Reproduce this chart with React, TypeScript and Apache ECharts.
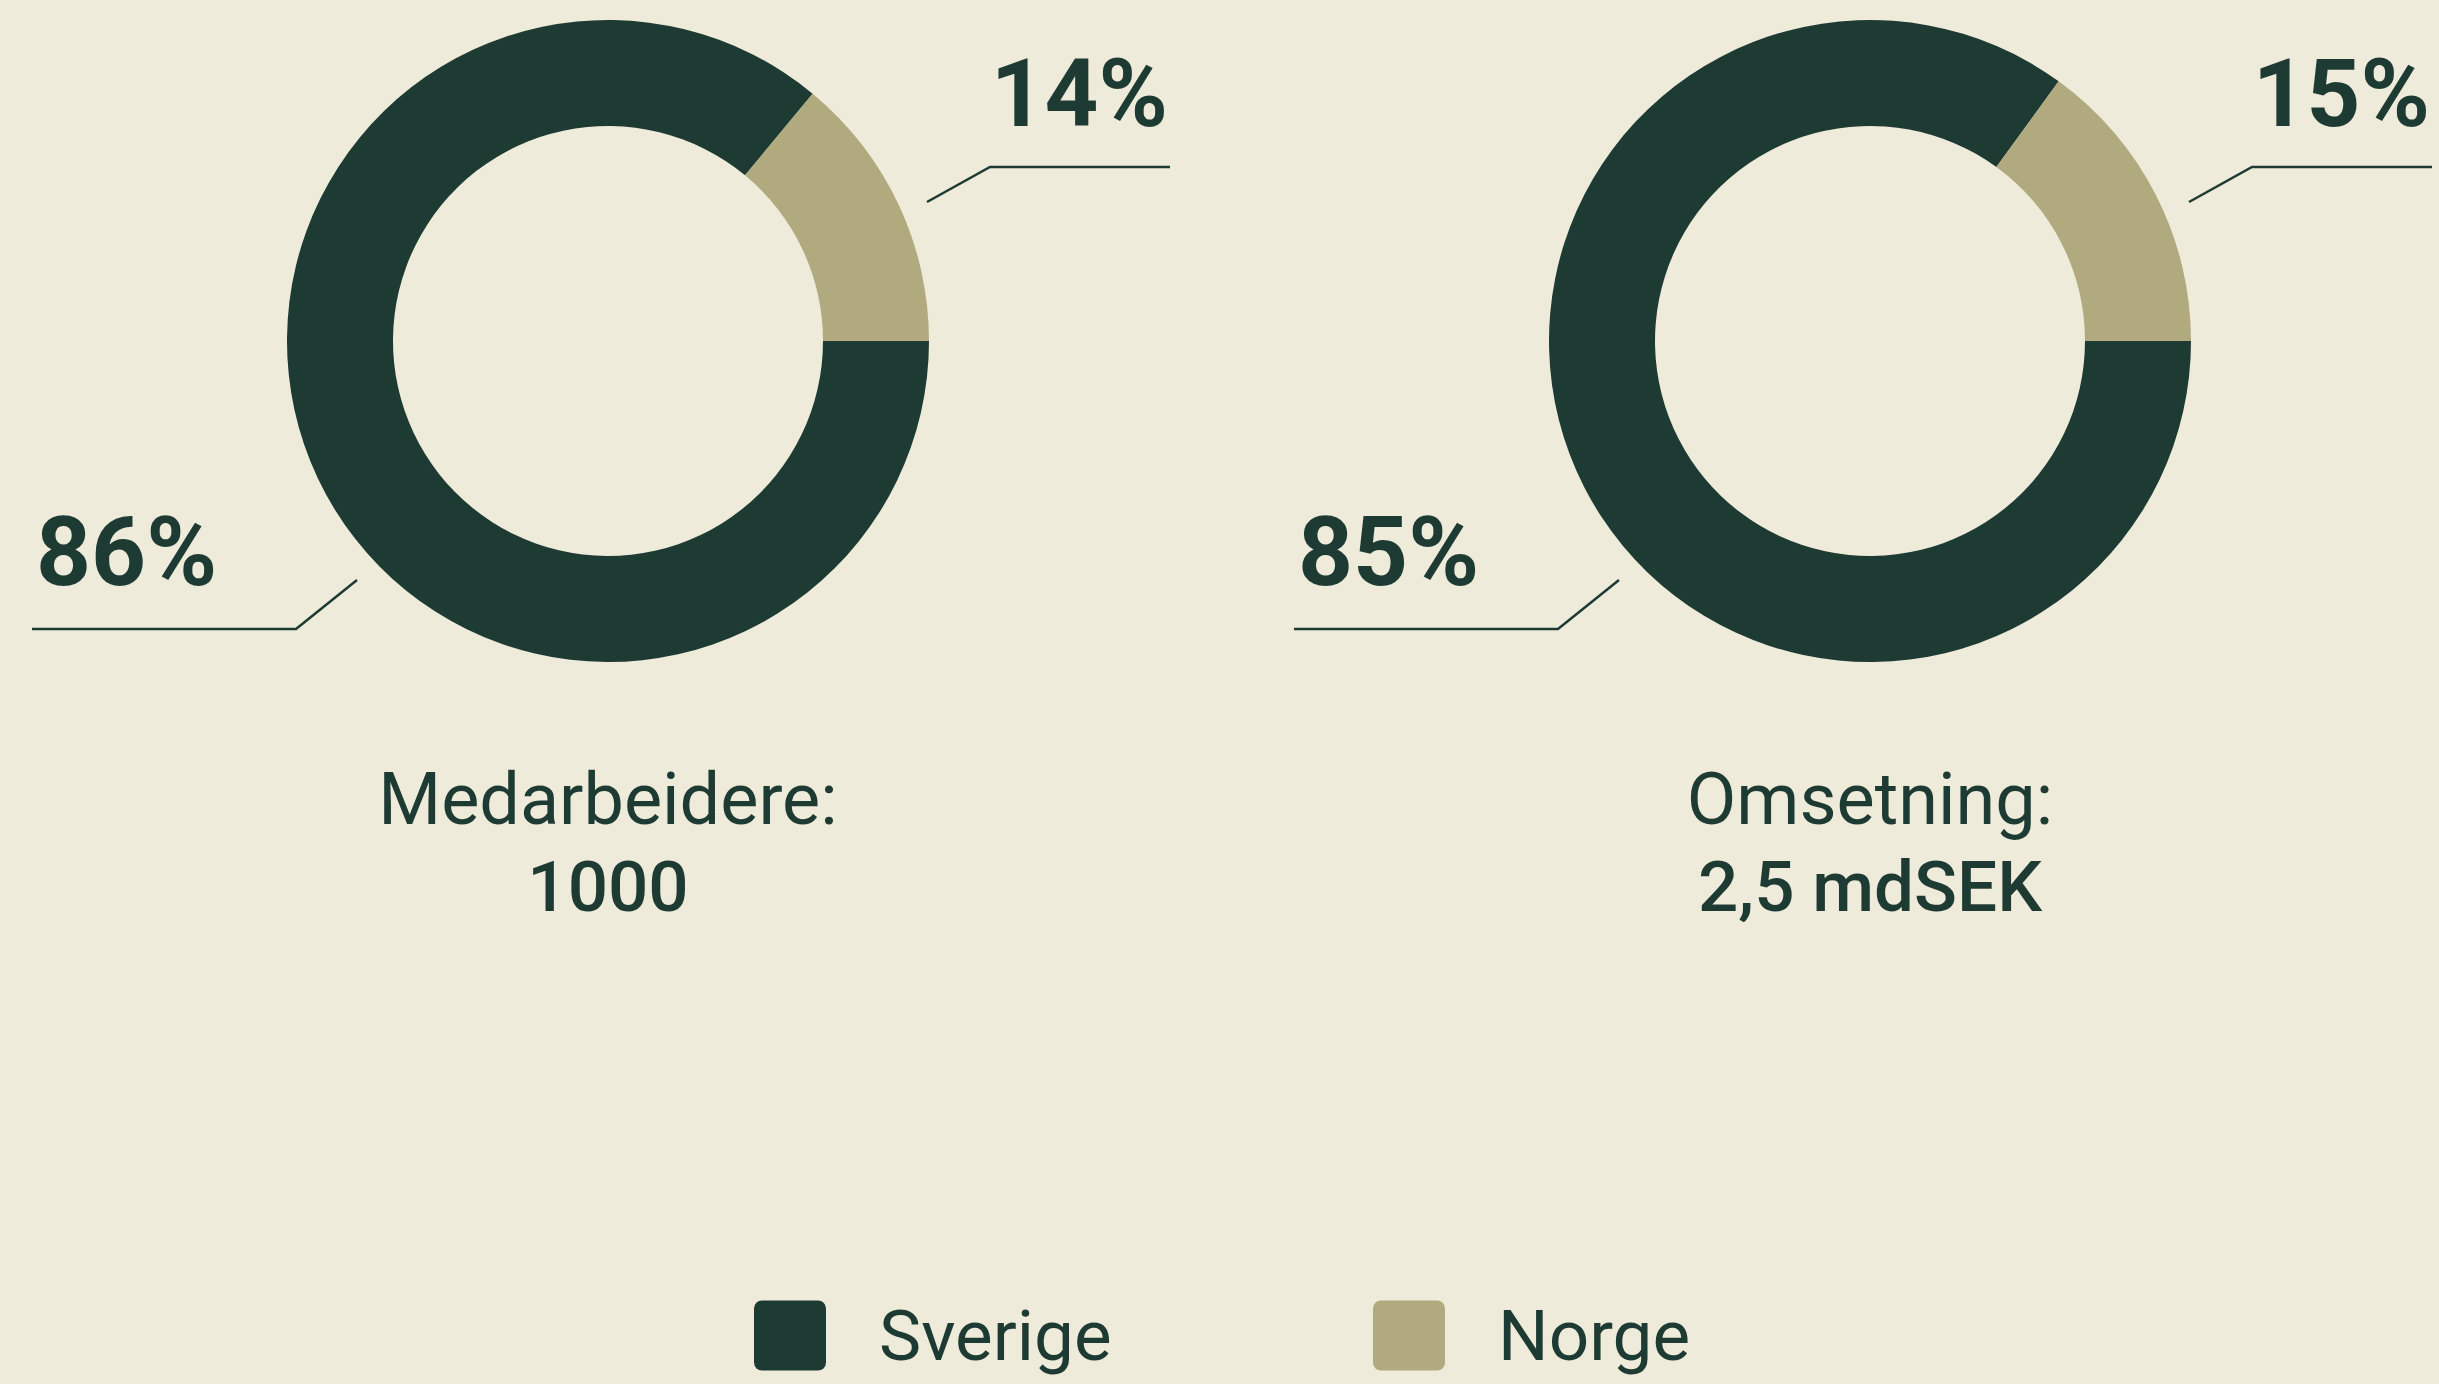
import React, { useEffect, useRef } from 'react';
import * as echarts from 'echarts';

// ---- data ----
const categories = ['Sverige', 'Norge'];
const employeeShare = [86, 14];
const revenueShare = [85, 15];
const chartTitles = ['Medarbeidere:', 'Omsetning:'];
const chartSubtitles = ['1000', '2,5 mdSEK'];

const DARK = '#1E3B33';
const TAN = '#B1AA7E';
const BG = '#EEEBDA';
const FONT = 'Roboto, "Noto Sans", sans-serif';

export default function App() {
  const ref = useRef<HTMLDivElement>(null);

  useEffect(() => {
    document.body.style.margin = '0';
    document.body.style.overflow = 'hidden';
    const chart = echarts.init(ref.current!, null, { renderer: 'svg' });

    const sets = [employeeShare, revenueShare];
    const centersX = [608, 1870];
    const cy = 341;

    const series: any[] = sets.map((vals, i) => ({
      type: 'pie',
      center: [centersX[i], cy],
      radius: [215, 321],
      startAngle: 0,
      clockwise: true,
      silent: true,
      label: { show: false },
      labelLine: { show: false },
      emphasis: { disabled: true },
      itemStyle: { borderWidth: 0 },
      data: categories.map((name, k) => ({ name, value: vals[k] })),
    }));

    const graphic: any[] = [];
    sets.forEach((vals, i) => {
      const dx = centersX[i] - centersX[0];
      // upper (Norge) label + leader line
      graphic.push({
        type: 'polyline',
        shape: { points: [[927 + dx, 202], [990 + dx, 167], [1170 + dx, 167]] },
        style: { stroke: DARK, lineWidth: 2.5, fill: null },
        silent: true,
      });
      graphic.push({
        type: 'text',
        x: 1168 + dx,
        y: 94,
        style: {
          text: `${vals[1]}%`,
          fontSize: 94,
          fontWeight: 700,
          fontFamily: FONT,
          fill: DARK,
          align: 'right',
          verticalAlign: 'middle',
        },
        silent: true,
      });
      // lower (Sverige) label + leader line
      graphic.push({
        type: 'polyline',
        shape: { points: [[357 + dx, 580], [296 + dx, 629], [32 + dx, 629]] },
        style: { stroke: DARK, lineWidth: 2.5, fill: null },
        silent: true,
      });
      graphic.push({
        type: 'text',
        x: 36 + dx,
        y: 552,
        style: {
          text: `${vals[0]}%`,
          fontSize: 96,
          fontWeight: 700,
          fontFamily: FONT,
          fill: DARK,
          align: 'left',
          verticalAlign: 'middle',
        },
        silent: true,
      });
      // titles
      graphic.push({
        type: 'text',
        x: centersX[i],
        y: 799,
        style: {
          text: chartTitles[i],
          fontSize: 72,
          fontWeight: 400,
          fontFamily: FONT,
          fill: DARK,
          align: 'center',
          verticalAlign: 'middle',
        },
        silent: true,
      });
      graphic.push({
        type: 'text',
        x: centersX[i],
        y: 886,
        style: {
          text: chartSubtitles[i],
          fontSize: 71,
          fontWeight: 500,
          fontFamily: FONT,
          fill: DARK,
          align: 'center',
          verticalAlign: 'middle',
        },
        silent: true,
      });
    });

    const icon =
      'path://M8,0H64A8,8,0,0,1,72,8V62A8,8,0,0,1,64,70H8A8,8,0,0,1,0,62V8A8,8,0,0,1,8,0Z';
    const legendLefts = [754, 1373];
    const legend = categories.map((name, k) => ({
      data: [name],
      left: legendLefts[k],
      top: 1300,
      padding: 0,
      itemWidth: 72,
      itemHeight: 70,
      icon,
      selectedMode: false,
      textStyle: {
        fontSize: 71,
        lineHeight: 64,
        fontFamily: FONT,
        fontWeight: 400,
        color: DARK,
        padding: [0, 0, 0, 48],
      },
    }));

    chart.setOption({
      animation: false,
      backgroundColor: BG,
      color: [DARK, TAN],
      legend,
      series,
      graphic,
    });

    return () => chart.dispose();
  }, []);

  return <div ref={ref} style={{ width: 2439, height: 1384 }} />;
}
